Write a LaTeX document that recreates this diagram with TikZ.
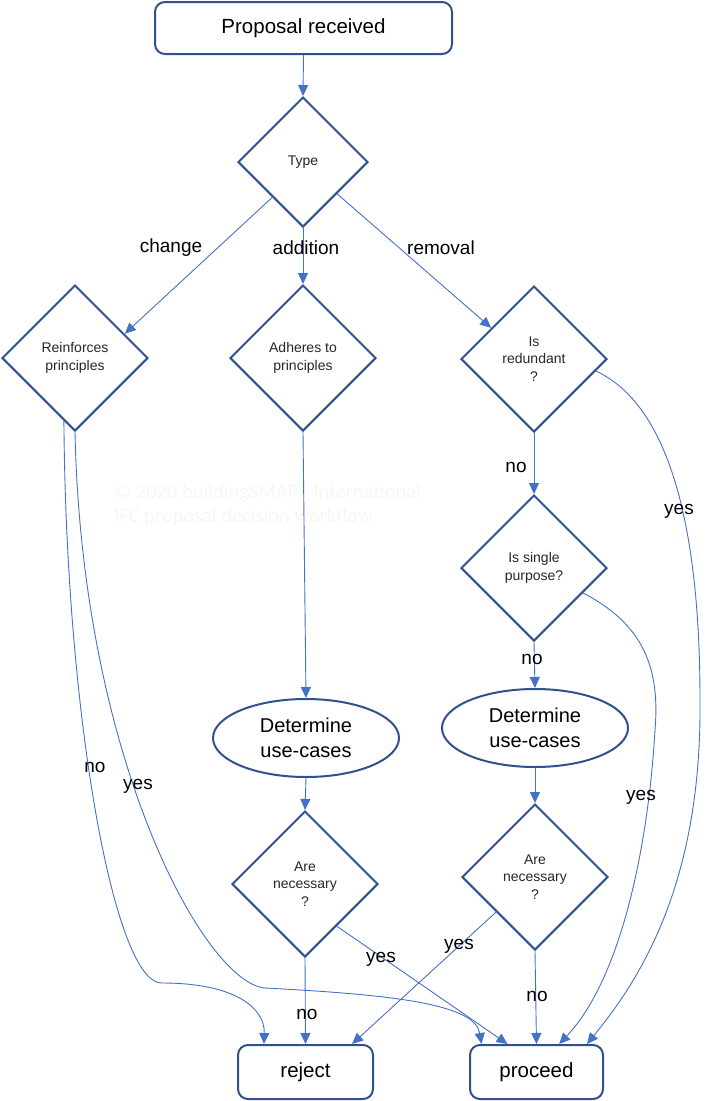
\documentclass[tikz,border=0pt]{standalone}
\usepackage{fontspec}
\setmainfont{Liberation Sans}
\newfontfamily\wmfont{Carlito}
\usetikzlibrary{shapes.geometric, arrows.meta}

\definecolor{shapeblue}{HTML}{2F528F}
\definecolor{lineblue}{HTML}{4472C4}
\definecolor{wmgray}{HTML}{F6F6F6}

\tikzset{
  terminal/.style={draw=shapeblue, line width=2pt, rounded corners=10pt, minimum height=52pt, inner sep=0pt, font=\fontsize{20.5}{24}\selectfont},
  decision/.style={diamond, aspect=1, draw=shapeblue, line width=2pt, minimum width=146pt, minimum height=146pt, inner sep=0pt, align=center, text=black!85, font=\fontsize{14}{17.5}\selectfont},
  process/.style={ellipse, draw=shapeblue, line width=2pt, minimum width=186pt, minimum height=78pt, inner sep=0pt, align=center, font=\fontsize{20}{25}\selectfont},
  conn/.style={draw=lineblue, line width=0.9pt, -{Triangle[length=11pt,width=10pt]}},
  lbl/.style={font=\fontsize{19}{22}\selectfont, inner sep=0pt},
  wm/.style={anchor=west, text=wmgray, inner sep=0pt, font=\wmfont\fontsize{20.5}{24}\selectfont}
}

\begin{document}
\begin{tikzpicture}[x=1pt, y=-1pt]
    \useasboundingbox (0,0) rectangle (710,1101);

    \node[wm] (wmline1) at (114,493) {© 2020 buildingSMART International};
    \node[wm] (wmline2) at (114,517) {IFC proposal decision workflow};

    \node[terminal, minimum width=297pt] (prop) at (303.5,28) {Proposal received};
    \node[decision, minimum width=130pt, minimum height=130pt] (type) at (303,162) {Type};

    \node[decision] (reinf) at (75,358) {Reinforces\\principles};
    \node[decision] (adher) at (303,358) {Adheres to\\principles};
    \node[decision] (redund) at (534,359) {Is\\redundant\\?};
    \node[decision] (single) at (534,568) {Is single\\purpose?};

    \node[process] (usecaseA) at (306,738) {Determine\\use-cases};
    \node[process] (usecaseB) at (535,728) {Determine\\use-cases};

    \node[decision] (needA) at (305,884) {Are\\necessary\\?};
    \node[decision] (needB) at (535,877) {Are\\necessary\\?};

    \node[terminal, minimum width=135pt, minimum height=54pt] (reject) at (305.5,1072) {reject};
    \node[terminal, minimum width=133pt, minimum height=54pt] (proceed) at (536.5,1072) {proceed};

    \draw[conn] (prop.south) -- (type.north);
    \draw[conn] (type.229) -- (reinf.26);
    \draw[conn] (type.south) -- (adher.north);
    \draw[conn] (type.317) -- (redund.144);
    \draw[conn] (adher.south) -- (usecaseA.north);
    \draw[conn] (usecaseA.south) -- (needA.north);
    \draw[conn] (redund.south) -- (single.north);
    \draw[conn] (single.south) -- (usecaseB.north);
    \draw[conn] (usecaseB.south) -- (needB.north);
    \draw[conn] (needA.south) -- (reject.north);
    \draw[conn] (needA.307.5) -- (proceed.136.5);
    \draw[conn] (needB.222.8) -- (reject.31.2);
    \draw[conn] (needB.south) -- (proceed.north);

    \draw[conn] (reinf.260) .. controls (66,720) and (115,985) .. (162,983)
        .. controls (235,983) and (265,1008) .. (reject.146);
    \draw[conn] (reinf.south) .. controls (82,760) and (205,983) .. (265,988)
        .. controls (400,995) and (475,1005) .. (proceed.153.6);
    \draw[conn] (redund.349) .. controls (680,410) and (700,560) .. (700,700)
        .. controls (702,890) and (635,985) .. (proceed.29.1);
    \draw[conn] (single.333) .. controls (645,625) and (660,670) .. (655,730)
        .. controls (648,850) and (620,980) .. (proceed.51.5);

    \node[lbl] (lchange) at (171,248) {change};
    \node[lbl] (laddition) at (306,248) {addition};
    \node[lbl] (lremoval) at (441,248) {removal};
    \node[lbl] (lnoreinf) at (95,767) {no};
    \node[lbl] (lyesreinf) at (138,786) {yes};
    \node[lbl] (lnoredund) at (516,467) {no};
    \node[lbl] (lyesredund) at (679,511) {yes};
    \node[lbl] (lnosingle) at (532,659) {no};
    \node[lbl] (lyessingle) at (641,797) {yes};
    \node[lbl] (lyesneedA) at (381,959) {yes};
    \node[lbl] (lnoneedA) at (307,1014) {no};
    \node[lbl] (lyesneedB) at (459,946) {yes};
    \node[lbl] (lnoneedB) at (537,996) {no};
\end{tikzpicture}
\end{document}
